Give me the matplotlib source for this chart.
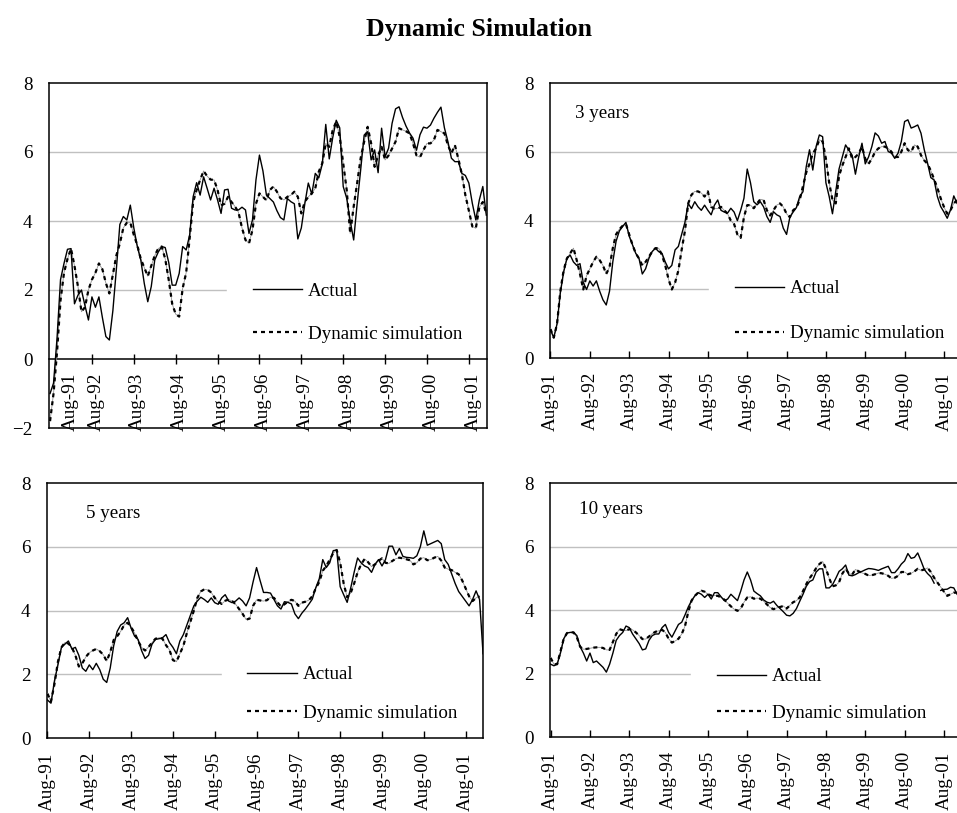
import matplotlib
matplotlib.use("Agg")
import matplotlib.pyplot as plt
import matplotlib.transforms as mtransforms
import numpy as np

plt.rcParams['font.family'] = ['Liberation Serif', 'DejaVu Serif']
plt.rcParams['font.size'] = 13.7

# monthly series, first value = Aug-91
tick_labels = ['Aug-91', 'Aug-92', 'Aug-93', 'Aug-94', 'Aug-95', 'Aug-96',
               'Aug-97', 'Aug-98', 'Aug-99', 'Aug-00', 'Aug-01']

actual_1y = [-1.0, -0.7, 0.6, 2.3, 2.77, 3.18, 3.2, 1.6, 1.85, 2.0,
             1.55, 1.13, 1.8, 1.5, 1.8, 1.2, 0.65, 0.55, 1.4, 2.6,
             3.9, 4.13, 4.03, 4.46, 3.8, 3.26, 2.87, 2.19, 1.66, 2.1,
             2.87, 3.1, 3.26, 3.23, 2.8, 2.14, 2.14, 2.48, 3.26, 3.16,
             3.59, 4.7, 5.11, 4.75, 5.28, 4.95, 4.61, 4.95, 4.61, 4.22,
             4.9, 4.92, 4.37, 4.32, 4.32, 4.4, 4.32, 3.64, 4.03, 5.19,
             5.91, 5.45, 4.75, 4.65, 4.55, 4.3, 4.1, 4.03, 4.65, 4.56,
             4.5, 3.48, 3.8, 4.5, 5.1, 4.78, 5.38, 5.25, 5.65, 6.8,
             5.8, 6.42, 6.92, 6.7, 5.0, 4.66, 4.0, 3.45, 4.51, 5.48,
             6.49, 6.59, 5.77, 6.06, 5.4, 6.69, 5.86, 6.11, 6.83, 7.25,
             7.31, 7.0, 6.75, 6.55, 6.4, 6.05, 6.5, 6.72, 6.69, 6.78,
             6.98, 7.15, 7.3, 6.7, 6.3, 5.82, 5.72, 5.72, 5.38, 5.32,
             5.1, 4.51, 4.03, 4.61, 5.0, 4.17]
sim_1y = [-1.8, -1.0, 0.2, 1.7, 2.5, 2.9, 3.2, 2.7, 2.1, 1.37,
          1.5, 2.0, 2.3, 2.5, 2.77, 2.6, 2.2, 1.9, 2.45, 3.0,
          3.35, 3.8, 3.95, 3.95, 3.6, 3.3, 2.9, 2.65, 2.4, 2.7,
          3.0, 3.2, 3.26, 2.9, 2.3, 1.6, 1.3, 1.23, 2.05, 2.5,
          3.5, 4.55, 4.9, 5.19, 5.45, 5.3, 5.2, 5.19, 4.9, 4.45,
          4.5, 4.7, 4.55, 4.42, 4.25, 3.8, 3.45, 3.35, 3.74, 4.5,
          4.8, 4.7, 4.6, 4.9, 5.0, 4.85, 4.66, 4.61, 4.7, 4.75,
          4.85, 4.7, 4.22, 4.56, 4.7, 4.8, 4.95, 5.43, 5.67, 6.25,
          6.15, 6.64, 6.88, 6.44, 5.67, 4.9, 3.64, 4.42, 5.1, 5.82,
          6.3, 6.73, 6.25, 5.57, 5.9, 6.15, 5.77, 5.9, 6.1, 6.3,
          6.69, 6.64, 6.6, 6.54, 6.25, 5.9, 5.85, 6.06, 6.25, 6.25,
          6.35, 6.64, 6.59, 6.54, 6.2, 5.96, 6.2, 5.8, 5.35, 4.75,
          4.3, 3.84, 3.79, 4.4, 4.55, 4.22]

actual_3y = [0.82, 0.6, 1.0, 1.9, 2.5, 2.9, 3.0, 2.8, 2.7, 2.75,
             2.2, 2.0, 2.25, 2.1, 2.25, 1.95, 1.7, 1.55, 1.95, 2.8,
             3.4, 3.7, 3.83, 3.95, 3.55, 3.3, 3.05, 2.9, 2.45, 2.6,
             2.9, 3.1, 3.2, 3.1, 3.05, 2.8, 2.6, 2.7, 3.15, 3.25,
             3.6, 3.95, 4.5, 4.35, 4.55, 4.4, 4.3, 4.45, 4.3, 4.17,
             4.45, 4.6, 4.3, 4.25, 4.22, 4.36, 4.25, 4.0, 4.3, 4.65,
             5.5, 5.1, 4.55, 4.46, 4.55, 4.4, 4.12, 3.95, 4.26, 4.17,
             4.12, 3.78, 3.6, 4.1, 4.25, 4.38, 4.7, 4.84, 5.57, 6.06,
             5.47, 6.15, 6.49, 6.44, 5.1, 4.7, 4.2, 4.85, 5.5, 5.85,
             6.2, 6.05, 5.9, 5.35, 5.85, 6.25, 5.65, 5.85, 6.15, 6.55,
             6.46, 6.25, 6.3, 6.01, 5.96, 5.81, 5.96, 6.3, 6.88, 6.93,
             6.69, 6.73, 6.78, 6.54, 6.06, 5.67, 5.25, 5.18, 4.7, 4.41,
             4.25, 4.07, 4.31, 4.72, 4.5, 4.4]
sim_3y = [0.85, 0.6, 1.0, 1.95, 2.55, 2.9, 3.05, 3.2, 2.85, 2.45,
          2.0, 2.4, 2.6, 2.8, 2.95, 2.85, 2.7, 2.45, 2.65, 3.2,
          3.6, 3.75, 3.85, 3.9, 3.6, 3.3, 3.05, 2.9, 2.7, 2.8,
          2.95, 3.1, 3.2, 3.2, 3.0, 2.7, 2.3, 2.0, 2.2, 2.55,
          3.15, 3.7, 4.5, 4.75, 4.85, 4.85, 4.8, 4.7, 4.85, 4.4,
          4.35, 4.35, 4.4, 4.3, 4.2, 4.0, 3.9, 3.6, 3.5, 4.1,
          4.45, 4.45, 4.36, 4.5, 4.62, 4.6, 4.3, 4.15, 4.3, 4.45,
          4.5, 4.4, 4.2, 4.1, 4.3, 4.38, 4.6, 5.0, 5.4, 5.65,
          5.95, 6.1, 6.35, 6.3, 5.8, 5.1, 4.6, 4.5, 5.3, 5.6,
          5.85, 6.1, 5.8, 5.85, 5.95, 6.15, 5.8, 5.65, 5.8, 6.0,
          6.1, 6.15, 6.15, 6.1, 6.0, 5.85, 5.85, 6.0, 6.25, 6.05,
          6.0, 6.2, 6.15, 5.9, 5.75, 5.65, 5.45, 5.2, 4.95, 4.65,
          4.4, 4.2, 4.3, 4.5, 4.6, 4.6]

actual_5y = [1.2, 1.1, 1.8, 2.3, 2.85, 2.95, 3.05, 2.8, 2.85, 2.6,
             2.2, 2.1, 2.3, 2.15, 2.35, 2.15, 1.85, 1.75, 2.2, 2.9,
             3.35, 3.55, 3.62, 3.78, 3.45, 3.2, 3.1, 2.75, 2.5, 2.6,
             2.95, 3.1, 3.12, 3.15, 3.25, 3.0, 2.85, 2.65, 3.05, 3.25,
             3.55, 3.85, 4.15, 4.3, 4.42, 4.35, 4.26, 4.4, 4.25, 4.2,
             4.4, 4.5, 4.3, 4.25, 4.3, 4.4, 4.3, 4.15, 4.4, 4.9,
             5.35, 4.95, 4.57, 4.57, 4.55, 4.35, 4.15, 4.05, 4.28, 4.26,
             4.21, 3.9, 3.75, 3.92, 4.05, 4.2, 4.36, 4.72, 5.0, 5.6,
             5.35, 5.5, 5.88, 5.9, 4.75, 4.5, 4.26, 4.7, 5.2, 5.65,
             5.5, 5.4, 5.35, 5.2, 5.45, 5.6, 5.4, 5.6, 6.02, 6.02,
             5.75, 5.95, 5.7, 5.67, 5.66, 5.64, 5.72, 6.0, 6.5, 6.05,
             6.1, 6.15, 6.2, 6.1, 5.6, 5.45, 5.15, 4.85, 4.6, 4.45,
             4.3, 4.15, 4.35, 4.62, 4.35, 2.65]
sim_5y = [1.4, 1.15, 1.7, 2.4, 2.85, 3.0, 2.97, 2.85, 2.6, 2.25,
          2.35, 2.55, 2.68, 2.75, 2.8, 2.73, 2.62, 2.42, 2.7, 3.08,
          3.2, 3.35, 3.55, 3.62, 3.48, 3.3, 3.05, 2.85, 2.75, 2.86,
          3.0, 3.12, 3.15, 3.12, 2.92, 2.77, 2.45, 2.4, 2.65, 2.9,
          3.3, 3.65, 4.0, 4.4, 4.6, 4.67, 4.65, 4.57, 4.4, 4.28,
          4.21, 4.31, 4.35, 4.3, 4.2, 4.05, 3.9, 3.72, 3.75, 4.15,
          4.34, 4.32, 4.3, 4.33, 4.42, 4.4, 4.26, 4.13, 4.2, 4.28,
          4.34, 4.3, 4.15, 4.25, 4.28, 4.33, 4.45, 4.7, 4.9, 5.25,
          5.4, 5.6, 5.8, 5.9, 5.5, 4.85, 4.42, 4.55, 4.85, 5.2,
          5.45, 5.62, 5.52, 5.38, 5.45, 5.56, 5.64, 5.5, 5.48, 5.56,
          5.63, 5.66, 5.64, 5.61, 5.58, 5.45, 5.5, 5.63, 5.66, 5.58,
          5.6, 5.66, 5.7, 5.57, 5.35, 5.3, 5.27, 5.2, 5.14, 4.95,
          4.7, 4.45, 4.3, 4.4, 4.45]

actual_10y = [2.3, 2.25, 2.3, 2.65, 3.1, 3.28, 3.3, 3.3, 3.2, 2.85,
              2.65, 2.4, 2.65, 2.35, 2.4, 2.3, 2.2, 2.05, 2.3, 2.65,
              3.05, 3.2, 3.3, 3.5, 3.45, 3.25, 3.1, 2.95, 2.75, 2.78,
              3.05, 3.2, 3.25, 3.25, 3.45, 3.55, 3.3, 3.15, 3.35, 3.55,
              3.62, 3.85, 4.1, 4.3, 4.45, 4.55, 4.5, 4.4, 4.5, 4.35,
              4.55, 4.55, 4.42, 4.3, 4.35, 4.5, 4.4, 4.3, 4.6, 4.95,
              5.2, 4.95, 4.6, 4.52, 4.45, 4.32, 4.25, 4.22, 4.28, 4.15,
              4.05, 3.95, 3.84, 3.82, 3.9, 4.05, 4.28, 4.5, 4.75, 4.9,
              4.95, 5.2, 5.3, 5.3, 4.7, 4.7, 4.8, 5.0, 5.22, 5.3,
              5.42, 5.1, 5.08, 5.12, 5.18, 5.22, 5.27, 5.31, 5.3, 5.28,
              5.25, 5.3, 5.34, 5.38, 5.18, 5.18, 5.3, 5.45, 5.55, 5.78,
              5.63, 5.66, 5.8, 5.55, 5.28, 5.15, 5.05, 4.85, np.nan, 4.62,
              4.65, 4.66, 4.72, 4.7, 4.5]
sim_10y = [2.5, 2.3, 2.3, 2.7, 3.1, 3.28, 3.3, 3.3, 3.15, 2.85,
           2.77, 2.78, 2.8, 2.82, 2.83, 2.83, 2.81, 2.75, 2.75, 3.0,
           3.25, 3.4, 3.37, 3.36, 3.4, 3.38, 3.3, 3.2, 3.09, 3.09,
           3.17, 3.26, 3.32, 3.35, 3.38, 3.3, 3.1, 2.98, 3.03, 3.1,
           3.25, 3.5, 3.95, 4.3, 4.45, 4.55, 4.61, 4.58, 4.5, 4.46,
           4.46, 4.45, 4.4, 4.33, 4.22, 4.12, 4.03, 3.98, 4.05, 4.25,
           4.4, 4.42, 4.36, 4.38, 4.36, 4.28, 4.18, 4.08, 4.03, 4.07,
           4.1, 4.13, 4.05, 4.15, 4.25, 4.3, 4.4, 4.6, 4.82, 5.0,
           5.15, 5.32, 5.45, 5.53, 5.3, 5.0, 4.75, 4.78, 4.88, 5.15,
           5.3, 5.15, 5.12, 5.28, 5.22, 5.17, 5.14, 5.09, 5.1, 5.13,
           5.17, 5.16, 5.13, 5.08, 5.0, 5.02, 5.08, 5.2, 5.2, 5.13,
           5.16, 5.22, 5.3, 5.25, 5.28, 5.33, 5.2, 5.02, 4.87, 4.73,
           4.58, 4.45, 4.5, 4.55, 4.55]

W, H = 957, 813
fig = plt.figure(figsize=(W / 100, H / 100), dpi=100)


def px_axes(left, top, right, bottom):
    return fig.add_axes([left / W, 1 - bottom / H, (right - left) / W, (bottom - top) / H])


ax1 = px_axes(49, 83, 487, 428)
ax2 = px_axes(550, 83, 961, 358.3)
ax3 = px_axes(47, 483, 482.7, 738.3)
ax4 = px_axes(550.3, 483, 961, 737.3)

# (axes, actual, simulation, ymin, xlim, note, (legend left, legend centre, row spacing))
panels = [
    (ax1, actual_1y, sim_1y, -2, (-0.3, 125.2), None, (50.7, 1.35, 1.35)),
    (ax2, actual_3y, sim_3y, 0, (-0.15, 125.2), ('3 years', 7.5, 6.98), (48.3, 1.37, 1.45)),
    (ax3, actual_5y, sim_5y, 0, (-0.14, 124.9), ('5 years', 11.0, 6.9), (50.0, 1.39, 1.1)),
    (ax4, actual_10y, sim_10y, 0, (-0.1, 125.2), ('10 years', 8.7, 7.04), (42.8, 1.34, 1.0)),
]

for ax, act, sim, ymin, xlim, note, leg in panels:
    xa = np.arange(len(act))
    xs = np.arange(len(sim))
    ax.plot(xs, sim, color='#8f8f8f', lw=0.6, zorder=3)
    ax.plot(xs, sim, color='black', lw=1.6, ls=(0, (1.8, 1.8)), zorder=3,
            label='Dynamic simulation')
    ax.plot(xa, act, color='black', lw=1.0, zorder=3.1, label='Actual')

    ax.set_xlim(*xlim)
    ax.set_ylim(ymin, 8)
    ax.set_yticks(range(ymin, 9, 2))
    for g in (2, 4, 6):
        ax.axhline(g, color='#c0c0c0', lw=1.0, zorder=0.5)
    ax.tick_params(axis='y', length=0, pad=12)
    for s in ax.spines.values():
        s.set_linewidth(1.1)

    handles, labels = ax.get_legend_handles_labels()
    lg = ax.legend(handles[::-1], labels[::-1], loc='center left',
                   bbox_to_anchor=(leg[0], leg[1], xlim[1] - leg[0], 0),
                   bbox_transform=ax.transData, mode='expand',
                   borderaxespad=0, borderpad=1.35, handlelength=2.6,
                   handletextpad=0.3, labelspacing=leg[2], frameon=True,
                   facecolor='white', edgecolor='white', framealpha=1,
                   fancybox=False, fontsize=13.7)
    lg.set_zorder(1.0)

    if note:
        ax.text(note[1], note[2], note[0], fontsize=13.7, va='baseline')

# bottom three panels: category axis along the bottom
for ax in (ax2, ax3, ax4):
    ax.set_xticks(np.arange(len(tick_labels)) * 12)
    ax.set_xticklabels(tick_labels, rotation=90)
    ax.tick_params(axis='x', direction='in', length=5, width=1, pad=10)

# first panel: category axis crosses at zero
ax1.spines['bottom'].set_position(('data', 0))
ax1.plot([0, 1], [0, 0], transform=ax1.transAxes, color='black', lw=1.1,
         clip_on=False, zorder=4)
ax1.set_xticks([4.8] + [12 * i for i in range(1, len(tick_labels))])
ax1.set_xticklabels(tick_labels, rotation=90)
ax1.tick_params(axis='x', direction='inout', length=7, width=1, pad=6.5)
ax1.xaxis.get_major_ticks()[0].tick1line.set_visible(False)
shift = mtransforms.ScaledTranslation(4 / 100, 0, fig.dpi_scale_trans)
for lab in ax1.get_xticklabels():
    lab.set_transform(lab.get_transform() + shift)

fig.text(0.5, 1 - 36 / H, 'Dynamic Simulation', ha='center', va='baseline',
         fontsize=18.5, fontweight='bold')

fig.savefig('out.png', dpi=100)
